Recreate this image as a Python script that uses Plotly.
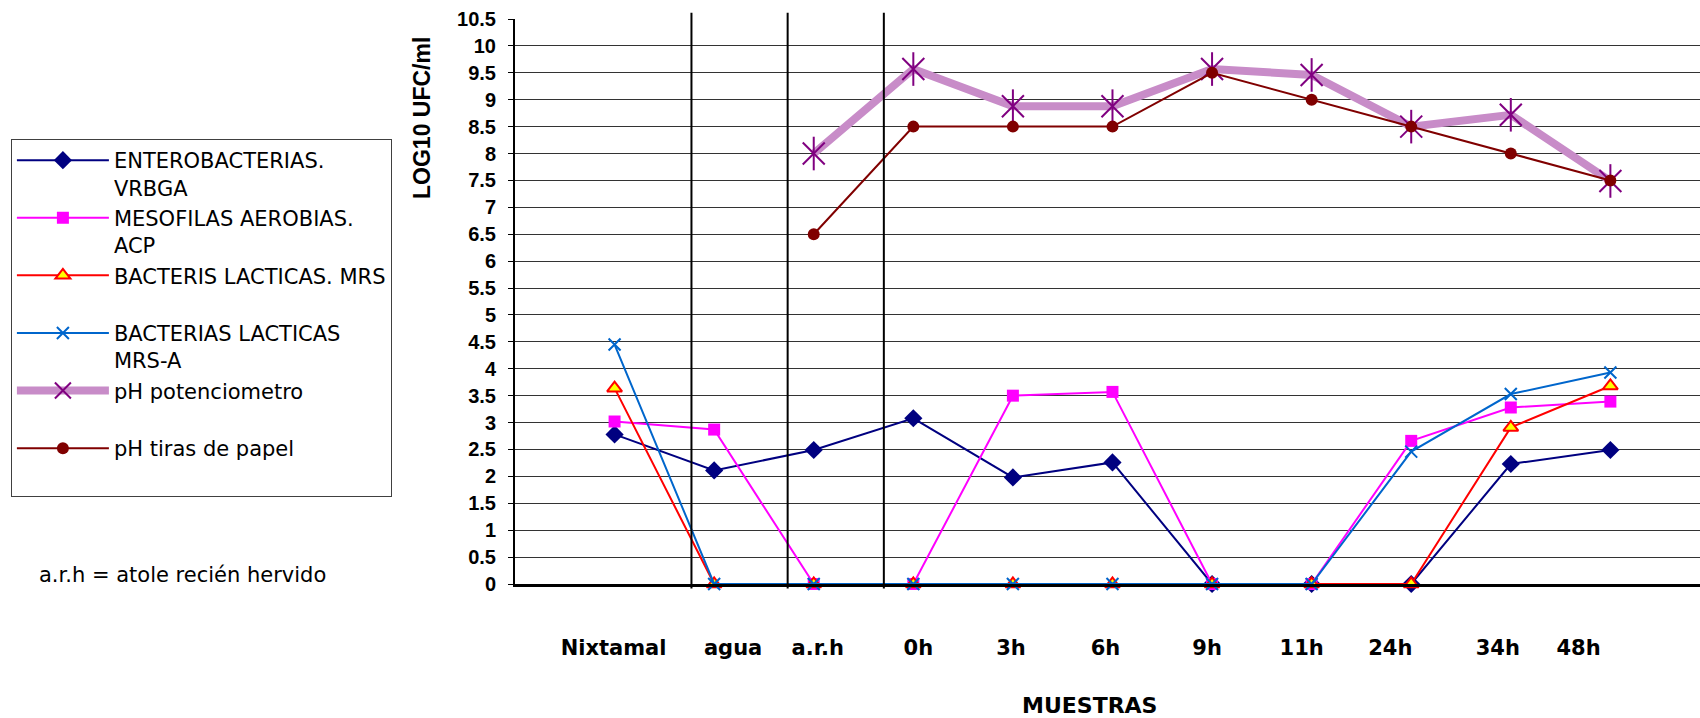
import plotly.graph_objects as go

# ---- data ----
muestras = ["Nixtamal", "agua", "a.r.h", "0h", "3h", "6h", "9h", "11h", "24h", "34h", "48h"]
x_idx = [1, 2, 3, 4, 5, 6, 7, 8, 9, 10, 11]

enterobacterias = [2.78, 2.11, 2.49, 3.08, 1.98, 2.26, 0, 0, 0, 2.23, 2.49]
mesofilas = [3.02, 2.87, 0, 0, 3.50, 3.57, 0, 0, 2.66, 3.28, 3.39]
lacticas_mrs = [3.64, 0, 0, 0, 0, 0, 0, 0, 0, 2.91, 3.68]
lacticas_mrs_a = [4.45, 0, 0, 0, 0, 0, 0, 0, 2.46, 3.53, 3.93]
ph_potenciometro = [None, None, 8.0, 9.57, 8.88, 8.88, 9.57, 9.46, 8.5, 8.72, 7.49]
ph_tiras = [None, None, 6.5, 8.5, 8.5, 8.5, 9.5, 9.0, 8.5, 8.0, 7.5]

y_ticks = [i * 0.5 for i in range(22)]
label_pos = [0.99, 2.19, 3.04, 4.05, 4.98, 5.93, 6.95, 7.90, 8.79, 9.87, 10.68]
separators = [1.772, 2.738, 3.704]

fig = go.Figure()

fig.add_trace(go.Scatter(
    x=x_idx, y=enterobacterias, mode="lines+markers", name="ENTEROBACTERIAS.<br>VRBGA",
    line=dict(color="#000080", width=2),
    marker=dict(symbol="diamond", size=14, color="#000080"), cliponaxis=False))
fig.add_trace(go.Scatter(
    x=x_idx, y=mesofilas, mode="lines+markers", name="MESOFILAS AEROBIAS.<br>ACP",
    line=dict(color="#FF00FF", width=2),
    marker=dict(symbol="square", size=12, color="#FF00FF"), cliponaxis=False))
fig.add_trace(go.Scatter(
    x=x_idx, y=lacticas_mrs, mode="lines+markers", name="BACTERIS LACTICAS. MRS<br> ",
    line=dict(color="#FF0000", width=2),
    marker=dict(symbol="triangle-up", size=13, color="#FFFF00", line=dict(color="#FF0000", width=2)),
    cliponaxis=False))
fig.add_trace(go.Scatter(
    x=x_idx, y=lacticas_mrs_a, mode="lines+markers", name="BACTERIAS LACTICAS<br>MRS-A",
    line=dict(color="#0066CC", width=2),
    marker=dict(symbol="x-thin-open", size=12, color="#0066CC", line=dict(color="#0066CC", width=2)),
    cliponaxis=False))
fig.add_trace(go.Scatter(
    x=x_idx, y=ph_potenciometro, mode="lines+markers", name="pH potenciometro<br> ",
    line=dict(color="#C88CC8", width=8),
    marker=dict(symbol="x-thin-open", size=22, color="#800080", line=dict(color="#800080", width=2)),
    cliponaxis=False))
fig.add_trace(go.Scatter(
    x=x_idx, y=ph_potenciometro, mode="markers", showlegend=False, hoverinfo="skip",
    marker=dict(symbol="line-ns-open", size=24, color="#800080", line=dict(color="#800080", width=2)),
    cliponaxis=False))
fig.add_trace(go.Scatter(
    x=x_idx, y=ph_tiras, mode="lines+markers", name="pH tiras de papel<br> ",
    line=dict(color="#800000", width=2),
    marker=dict(symbol="circle", size=12, color="#800000"), cliponaxis=False))

for sx in separators:
    fig.add_shape(type="line", xref="x", yref="paper", x0=sx, x1=sx, y0=-0.008, y1=1.011,
                  line=dict(color="black", width=2))

fig.add_annotation(text="LOG10 UFC/ml", xref="paper", yref="paper", x=-0.0785, y=0.8248,
                   xanchor="center", yanchor="middle", textangle=-90, showarrow=False,
                   font=dict(family="Liberation Sans", size=23, color="black", weight="bold"))
fig.add_annotation(text="MUESTRAS", xref="paper", yref="paper", x=0.4844, y=-0.2142,
                   xanchor="center", yanchor="middle", showarrow=False,
                   font=dict(family="DejaVu Sans", size=22, color="black", weight="bold"))
fig.add_annotation(text="a.r.h = atole recién hervido", xref="paper", yref="paper", x=-0.4035, y=0.016,
                   xanchor="left", yanchor="middle", showarrow=False,
                   font=dict(family="DejaVu Sans", size=21, color="black"))

fig.update_layout(
    width=1700, height=718,
    margin=dict(l=515, r=0, t=19, b=134),
    paper_bgcolor="white", plot_bgcolor="white",
    showlegend=True,
    legend=dict(x=-0.4254, y=0.7876, xanchor="left", yanchor="top",
                bgcolor="white", bordercolor="#404040", borderwidth=1,
                font=dict(family="DejaVu Sans", size=21, color="black"),
                valign="top", itemwidth=92, tracegroupgap=0),
    xaxis=dict(range=[0, 11.9], showgrid=False, zeroline=False,
               showline=True, linecolor="black", linewidth=3,
               tickmode="array", tickvals=label_pos, ticktext=muestras, ticks="",
               ticklabelstandoff=43,
               tickfont=dict(family="DejaVu Sans", size=21, color="black", weight="bold")),
    yaxis=dict(range=[0, 10.5], tickmode="array", tickvals=y_ticks,
               showgrid=True, gridcolor="#333333", gridwidth=1, zeroline=False,
               showline=True, linecolor="black", linewidth=2,
               ticks="outside", ticklen=5, tickcolor="black", ticklabelstandoff=8,
               tickfont=dict(family="Liberation Sans", size=20, color="black", weight="bold")),
)

fig.write_html("out.html")
